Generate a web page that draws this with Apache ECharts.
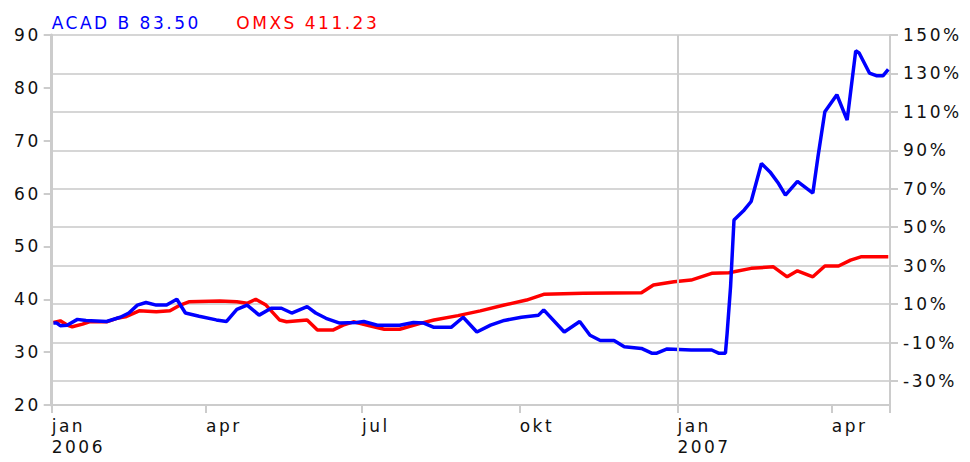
<!DOCTYPE html>
<html>
<head>
<meta charset="utf-8">
<script src="https://cdn.jsdelivr.net/npm/echarts@6/dist/echarts.min.js"></script>
<style>
html,body{margin:0;padding:0;background:#fff;}
#chart{width:970px;height:462px;}
#chart svg text{letter-spacing:2.5px;}
</style>
</head>
<body>
<div id="chart"></div>
<script>
// ---- data ----
const acadName = 'ACAD B 83.50';
const omxsName = 'OMXS 411.23';

const acadDates = ['2006-01-02','2006-01-04','2006-01-06','2006-01-10','2006-01-16','2006-01-21','2006-02-02','2006-02-10','2006-02-15','2006-02-20','2006-02-25','2006-03-03','2006-03-09','2006-03-15','2006-03-20','2006-03-28','2006-04-07','2006-04-13','2006-04-19','2006-04-25','2006-05-02','2006-05-09','2006-05-15','2006-05-21','2006-05-30','2006-06-04','2006-06-10','2006-06-18','2006-06-28','2006-07-02','2006-07-10','2006-07-23','2006-07-31','2006-08-06','2006-08-12','2006-08-22','2006-08-29','2006-09-06','2006-09-14','2006-09-22','2006-10-02','2006-10-12','2006-10-15','2006-10-27','2006-11-05','2006-11-11','2006-11-17','2006-11-25','2006-12-01','2006-12-11','2006-12-17','2006-12-20','2006-12-26','2007-01-09','2007-01-21','2007-01-25','2007-01-29','2007-01-30','2007-02-01','2007-02-03','2007-02-09','2007-02-13','2007-02-19','2007-02-24','2007-03-01','2007-03-05','2007-03-12','2007-03-21','2007-03-24','2007-03-28','2007-04-04','2007-04-10','2007-04-15','2007-04-17','2007-04-23','2007-04-27','2007-05-01','2007-05-04'];
const acadValues = [35.5,35.5,35.0,35.1,36.2,36.0,35.8,36.6,37.4,38.9,39.4,38.9,38.9,40.0,37.4,36.8,36.1,35.8,38.1,38.9,37.0,38.3,38.3,37.4,38.6,37.4,36.4,35.5,35.6,35.8,35.1,35.1,35.6,35.5,34.7,34.7,36.6,33.8,35.1,36.0,36.6,37.0,38.0,33.8,35.8,33.2,32.2,32.2,31.0,30.7,29.8,29.8,30.6,30.4,30.4,29.8,29.8,33.6,42.4,55.0,56.9,58.5,65.7,64.1,61.9,59.7,62.3,60.1,67.0,75.5,78.7,73.9,87.0,86.6,82.8,82.3,82.3,83.5];

const omxsDates = ['2006-01-02','2006-01-06','2006-01-10','2006-01-13','2006-01-19','2006-01-23','2006-02-02','2006-02-08','2006-02-13','2006-02-21','2006-03-03','2006-03-11','2006-03-17','2006-03-22','2006-04-09','2006-04-19','2006-04-25','2006-04-30','2006-05-06','2006-05-14','2006-05-18','2006-05-30','2006-06-05','2006-06-14','2006-06-20','2006-06-26','2006-07-06','2006-07-14','2006-07-23','2006-08-04','2006-08-12','2006-08-26','2006-09-08','2006-09-22','2006-10-05','2006-10-15','2006-11-07','2006-12-11','2006-12-18','2006-12-30','2007-01-09','2007-01-21','2007-01-31','2007-02-03','2007-02-13','2007-02-26','2007-03-06','2007-03-12','2007-03-21','2007-03-28','2007-04-05','2007-04-12','2007-04-18','2007-05-04'];
// percent change (right axis)
const omxsPct = [0.5,1.3,-0.9,-1.8,-0.4,0.8,0.8,2.6,3.4,6.5,6.0,6.5,9.5,11.2,11.6,11.2,10.4,12.5,9.5,1.7,0.8,1.7,-3.5,-3.5,-0.9,0.8,-1.4,-3.1,-3.1,0.0,1.7,4.0,6.5,9.5,12.1,15.1,15.6,15.9,19.9,21.6,22.5,26.0,26.3,26.8,28.6,29.4,24.2,27.3,24.2,29.8,29.8,32.9,34.6,34.6];

const xStart = '2006-01-01';
const xEnd = '2007-05-05';
const tickDates = ['2006-01-01','2006-04-01','2006-07-01','2006-10-01','2007-01-01','2007-04-01'];
const monthNames = {0:'jan',3:'apr',6:'jul',9:'okt'};
const yearLineDate = '2007-01-01';

// ---- chart ----
const P = s => +echarts.time.parse(s);
const FONT = 'DejaVu Sans';
const FS = 17;
const TXT = '#111';
const AX = '#cccccc';
const GRID = '#d6d6d6';

const chart = echarts.init(document.getElementById('chart'), null, {renderer: 'svg'});

const option = {
  animation: false,
  backgroundColor: '#fff',
  textStyle: {fontFamily: FONT},
  legend: {
    left: 46.7, top: 14, padding: 0,
    itemWidth: 0, itemHeight: 14, itemGap: 60.6,
    selectedMode: false,
    icon: 'rect',
    textStyle: {fontSize: FS, fontFamily: FONT, lineHeight: 17},
    data: [
      {name: acadName, textStyle: {color: '#0000ff'}, itemStyle: {opacity: 0}},
      {name: omxsName, textStyle: {color: '#ff0000'}, itemStyle: {opacity: 0}}
    ]
  },
  grid: [
    {left: 51.7, right: 80, top: 35, height: 370},
    {left: 51.7, right: 80, top: 35, height: 346}
  ],
  xAxis: [
    {
      type: 'value', gridIndex: 0,
      min: P(xStart), max: P(xEnd),
      axisLine: {show: true, lineStyle: {color: AX, width: 2}},
      axisTick: {show: true, length: 8, lineStyle: {color: AX, width: 2},
                 customValues: tickDates.concat([xEnd]).map(P)},
      splitLine: {show: false},
      axisLabel: {
        show: true,
        customValues: tickDates.map(P),
        formatter: function (v) {
          const d = new Date(v);
          const m = monthNames[d.getMonth()];
          return d.getMonth() === 0 ? m + '\n' + d.getFullYear() : m;
        },
        align: 'left', margin: 10, lineHeight: 21,
        fontSize: FS, color: TXT, fontFamily: FONT,
        showMinLabel: true, showMaxLabel: true
      }
    },
    {
      type: 'value', gridIndex: 1, show: false,
      min: P(xStart), max: P(xEnd)
    }
  ],
  yAxis: [
    {
      type: 'value', gridIndex: 0, position: 'left',
      min: 20, max: 90, interval: 10,
      axisLine: {show: true, lineStyle: {color: AX, width: 3}},
      axisTick: {show: true, length: 8, lineStyle: {color: AX, width: 2}},
      splitLine: {show: false},
      axisLabel: {margin: 11, fontSize: FS, color: TXT, fontFamily: FONT}
    },
    {
      type: 'value', gridIndex: 0, position: 'right',
      min: 20, max: 90, interval: 10,
      axisLine: {show: true, lineStyle: {color: AX, width: 2}},
      axisTick: {show: false},
      axisLabel: {show: false},
      splitLine: {show: false}
    },
    {
      type: 'value', gridIndex: 1, position: 'right',
      min: -30, max: 150, interval: 20,
      axisLine: {show: false},
      axisTick: {show: true, length: 8, lineStyle: {color: AX, width: 2}},
      splitLine: {show: true, lineStyle: {color: GRID, width: 2}},
      axisLabel: {margin: 13, fontSize: FS, color: TXT, fontFamily: FONT,
                  formatter: v => v + '%'}
    }
  ],
  series: [
    {
      name: 'yearline', type: 'line', xAxisIndex: 0, yAxisIndex: 0, z: 1,
      data: [], silent: true,
      markLine: {
        silent: true, symbol: 'none', label: {show: false},
        lineStyle: {color: AX, width: 2, type: 'solid'},
        data: [{xAxis: P(yearLineDate)}]
      }
    },
    {
      name: omxsName, type: 'line', xAxisIndex: 1, yAxisIndex: 2, z: 3,
      showSymbol: false, symbol: 'none',
      lineStyle: {color: '#ff0000', width: 3.5},
      itemStyle: {color: '#ff0000'},
      data: omxsDates.map((d, i) => [P(d), omxsPct[i]])
    },
    {
      name: acadName, type: 'line', xAxisIndex: 0, yAxisIndex: 0, z: 4,
      showSymbol: false, symbol: 'none',
      lineStyle: {color: '#0000ff', width: 3.5},
      itemStyle: {color: '#0000ff'},
      data: acadDates.map((d, i) => [P(d), acadValues[i]])
    }
  ]
};
chart.setOption(option);
</script>
</body>
</html>
